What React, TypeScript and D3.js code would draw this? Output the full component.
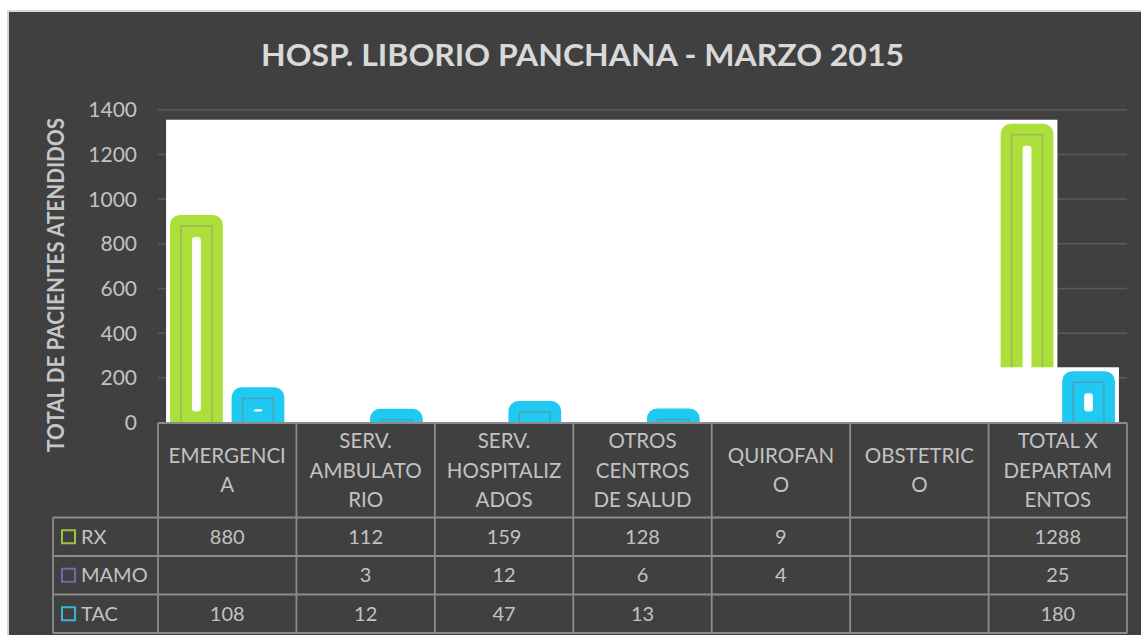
import React from "react";
import * as d3 from "d3";

const categories = [
  "EMERGENCIA",
  "SERV. AMBULATORIO",
  "SERV. HOSPITALIZADOS",
  "OTROS CENTROS DE SALUD",
  "QUIROFANO",
  "OBSTETRICO",
  "TOTAL X DEPARTAMENTOS",
];
const categoryLines = [
  ["EMERGENCI", "A"],
  ["SERV.", "AMBULATO", "RIO"],
  ["SERV.", "HOSPITALIZ", "ADOS"],
  ["OTROS", "CENTROS", "DE SALUD"],
  ["QUIROFAN", "O"],
  ["OBSTETRIC", "O"],
  ["TOTAL X", "DEPARTAM", "ENTOS"],
];
const seriesNames = ["RX", "MAMO", "TAC"];
const rxValues: (number | null)[] = [880, 112, 159, 128, 9, null, 1288];
const mamoValues: (number | null)[] = [null, 3, 12, 6, 4, null, 25];
const tacValues: (number | null)[] = [108, 12, 47, 13, null, null, 180];
const yTicks = [0, 200, 400, 600, 800, 1000, 1200, 1400];

const seriesValues = [rxValues, mamoValues, tacValues];
const seriesGlow = ["#addf3b", "#8e6bbd", "#1fc9f2"];
const seriesEdge = ["#9bb65c", "#7a619c", "#4aa2b6"];
const seriesKey = ["#9cc23e", "#8064a8", "#3db4d6"];

const W = 1141;
const H = 635;
const FONT = "Lato, 'Open Sans', sans-serif";
const TEXT = "#c2c2c2";
const LINE = "#8c8c8c";
const GLOW = 11;
const PAD = 4;

export default function App() {
  const x0 = d3.scaleBand<string>().domain(categories).range([158, 1127]).padding(0);
  const x1 = d3
    .scaleBand<string>()
    .domain(seriesNames)
    .range([0, x0.bandwidth()])
    .paddingInner(0)
    .paddingOuter(0.75);
  const y = d3.scaleLinear().domain([0, 1400]).range([422.5, 109.7]);
  const base = y(0);

  const headerTop = 423;
  const headerBottom = 517.5;
  const rowLines = [517.5, 556, 594.5, 633];
  const legendLeft = 53;

  const bars = seriesNames.map((s, si) =>
    categories
      .map((c, ci) => {
        const v = seriesValues[si][ci];
        if (v == null) return null;
        const bx = (x0(c) as number) + (x1(s) as number);
        const bw = x1.bandwidth();
        const by = y(v);
        return { c, v, bx, bw, by, bh: base - by };
      })
      .filter((b) => b !== null) as { c: string; v: number; bx: number; bw: number; by: number; bh: number }[]
  );

  return (
    <svg
      width={W}
      height={H}
      style={{ position: "absolute", left: 0, top: 0, fontFamily: FONT }}
    >
      <defs>
        <clipPath id="plotClip">
          <rect x={0} y={0} width={W} height={base} />
        </clipPath>
      </defs>
      <rect x={0} y={0} width={W} height={H} fill="#ffffff" />
      <rect x={8} y={11} width={W + 20} height={H + 20} fill="#404040" stroke="#d6d6d6" strokeWidth={2} />

      <text
        x={582.5}
        y={66}
        textAnchor="middle"
        fill="#d9d9d9"
        fontWeight="bold"
        fontSize={31}
        textLength={643}
        lengthAdjust="spacingAndGlyphs"
      >
        HOSP. LIBORIO PANCHANA - MARZO 2015
      </text>

      <text
        transform={`translate(64,285) rotate(-90)`}
        textAnchor="middle"
        fill="#c6c6c6"
        fontWeight="bold"
        fontSize={23}
        textLength={334}
        lengthAdjust="spacingAndGlyphs"
      >
        TOTAL DE PACIENTES ATENDIDOS
      </text>

      {yTicks.map((t) => (
        <g key={t}>
          {t > 0 && (
            <line x1={158} x2={1127} y1={y(t)} y2={y(t)} stroke="#5a5a5a" strokeWidth={1.5} />
          )}
          <text x={137} y={y(t)} dy="0.36em" textAnchor="end" fill={TEXT} fontSize={21}>
            {t}
          </text>
        </g>
      ))}

      <g clipPath="url(#plotClip)">
        {bars.map((sb, si) => {
          if (sb.length === 0) return null;
          const left = d3.min(sb, (b) => b.bx)! - GLOW - PAD;
          const right = d3.max(sb, (b) => b.bx + b.bw)! + GLOW + PAD;
          const top = d3.min(sb, (b) => b.by)! - GLOW - PAD;
          return (
            <g key={seriesNames[si]}>
              <rect x={left} y={top} width={right - left} height={base - top + 5} fill="#ffffff" />
              {sb.map((b) => (
                <g key={b.c}>
                  <rect
                    x={b.bx - GLOW}
                    y={b.by - GLOW}
                    width={b.bw + 2 * GLOW}
                    height={b.bh + GLOW + 20}
                    rx={10}
                    fill={seriesGlow[si]}
                  />
                  <rect
                    x={b.bx}
                    y={b.by}
                    width={b.bw}
                    height={b.bh + 5}
                    fill="none"
                    stroke={seriesEdge[si]}
                    strokeWidth={1.5}
                  />
                  {b.bw - 2 * GLOW > 0 && b.bh - 2 * GLOW > 0 && (
                    <rect
                      x={b.bx + GLOW}
                      y={b.by + GLOW}
                      width={b.bw - 2 * GLOW}
                      height={b.bh - 2 * GLOW}
                      rx={3}
                      fill="#ffffff"
                    />
                  )}
                </g>
              ))}
            </g>
          );
        })}
      </g>

      {/* data table */}
      <g stroke={LINE} strokeWidth={1.8} fill="none">
        <line x1={158} x2={1127} y1={headerTop} y2={headerTop} />
        {rowLines.map((ry) => (
          <line key={ry} x1={legendLeft} x2={1127} y1={ry} y2={ry} />
        ))}
        {categories.map((c) => (
          <line key={c} x1={x0(c)!} x2={x0(c)!} y1={headerTop} y2={rowLines[3]} />
        ))}
        <line x1={1127} x2={1127} y1={headerTop} y2={rowLines[3]} />
        <line x1={legendLeft} x2={legendLeft} y1={headerBottom} y2={rowLines[3]} />
      </g>

      {categories.map((c, ci) => {
        const lines = categoryLines[ci];
        const cx = x0(c)! + x0.bandwidth() / 2;
        const cy = (headerTop + headerBottom) / 2;
        const lh = 29.5;
        return (
          <text key={c} textAnchor="middle" fill={TEXT} fontSize={20.5}>
            {lines.map((l, li) => (
              <tspan key={li} x={cx} y={cy + (li - (lines.length - 1) / 2) * lh} dy="0.36em">
                {l}
              </tspan>
            ))}
          </text>
        );
      })}

      {seriesNames.map((s, si) => {
        const ry0 = rowLines[si];
        const ry1 = rowLines[si + 1];
        const cy = (ry0 + ry1) / 2;
        return (
          <g key={s}>
            <rect x={62} y={cy - 6.5} width={13} height={13} fill="none" stroke={seriesKey[si]} strokeWidth={2} />
            <text x={81} y={cy} dy="0.36em" fill={TEXT} fontSize={20}>
              {s}
            </text>
            {categories.map((c, ci) => {
              const v = seriesValues[si][ci];
              if (v == null) return null;
              return (
                <text
                  key={c}
                  x={x0(c)! + x0.bandwidth() / 2}
                  y={cy}
                  dy="0.36em"
                  textAnchor="middle"
                  fill={TEXT}
                  fontSize={20}
                >
                  {v}
                </text>
              );
            })}
          </g>
        );
      })}
    </svg>
  );
}
